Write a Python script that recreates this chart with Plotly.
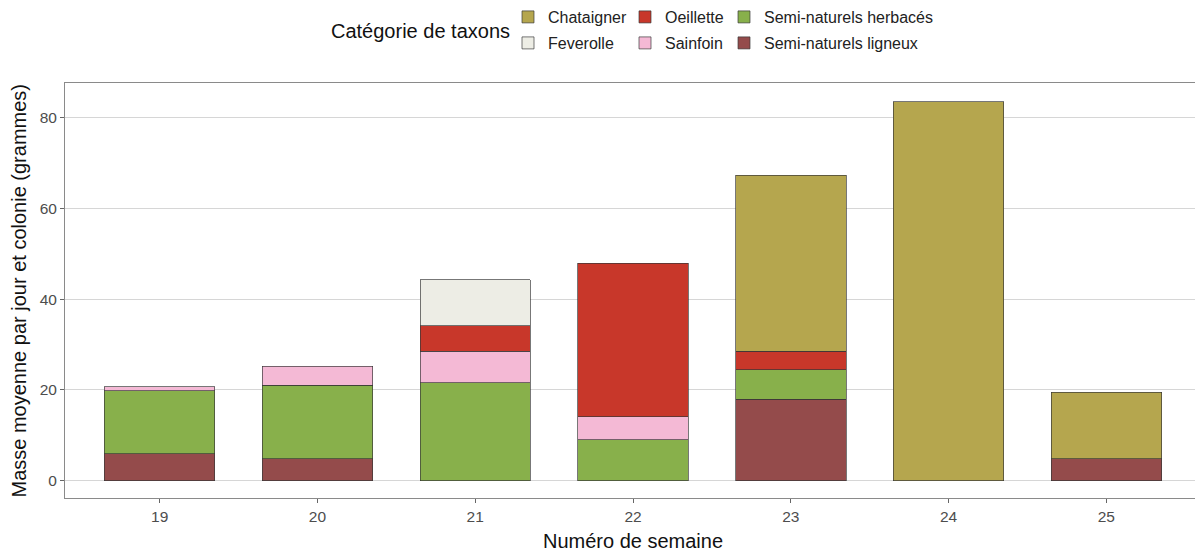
import plotly.graph_objects as go

weeks = [19, 20, 21, 22, 23, 24, 25]

# Stack order, bottom to top
series_names = ["Semi-naturels ligneux", "Semi-naturels herbacés", "Sainfoin",
                "Oeillette", "Feverolle", "Chataigner"]

ligneux   = [5.9, 4.8, None, None, 18.0, None, 4.8]
herbaces  = [13.9, 16.2, 21.6, 9.0, 6.5, None, None]
sainfoin  = [0.9, 4.2, 6.9, 5.1, None, None, None]
oeillette = [None, None, 5.6, 33.8, 4.0, None, None]
feverolle = [None, None, 10.2, None, None, None, None]
chataign  = [None, None, None, None, 38.8, 83.5, 14.7]

values = [ligneux, herbaces, sainfoin, oeillette, feverolle, chataign]
colors = ["#944B4B", "#88B04B", "#F4B9D5", "#C8372A", "#EDEDE5", "#B5A64E"]

y_ticks = [0, 20, 40, 60, 80]

# Legend placement (page px): text start x, row centre y
legend_pos = {
    "Chataigner": (549, 17),
    "Feverolle": (549, 43),
    "Oeillette": (666, 17),
    "Sainfoin": (666, 43),
    "Semi-naturels herbacés": (765, 17),
    "Semi-naturels ligneux": (765, 43),
}

OFF = 8  # page body margin
W, H = 1203 - OFF, 552 - OFF
# plot area in page px: x 65..1201, y 83..498
ML, MR, MT, MB = 65 - OFF, W - (1201 - OFF), 83 - OFF, H - (498 - OFF)
PW, PH = W - ML - MR, H - MT - MB
FONT = "Liberation Sans, Arial, Helvetica, sans-serif"

fig = go.Figure()
layout_legends = {}
for i, (name, vals, col) in enumerate(zip(series_names, values, colors)):
    key = "legend" if i == 0 else f"legend{i+1}"
    fig.add_trace(go.Bar(
        x=weeks, y=vals, name=name, width=0.7,
        marker=dict(color=col, line=dict(color="rgba(55,55,55,0.85)", width=0.8)),
        legend=key,
    ))
    tx, ty = legend_pos[name]
    layout_legends[key] = dict(
        xref="container", yref="container",
        x=(tx - OFF - 41) / W, y=1 - (ty - OFF) / H, xanchor="left", yanchor="middle",
        bgcolor="rgba(0,0,0,0)", borderwidth=0,
        font=dict(family=FONT, size=16, color="#222"),
    )

fig.update_layout(
    width=W, height=H,
    barmode="stack",
    plot_bgcolor="white", paper_bgcolor="white",
    margin=dict(l=ML, r=MR, t=MT, b=MB, autoexpand=False),
    font=dict(family=FONT, color="#222"),
    showlegend=True,
    **layout_legends,
)

fig.update_xaxes(
    range=[18.4, 25.6], tickmode="array", tickvals=weeks,
    ticktext=[str(w) for w in weeks],
    showgrid=False, zeroline=False,
    showline=True, linecolor="#8a8a8a", linewidth=1, mirror=True,
    ticks="outside", ticklen=4, tickcolor="#666",
    tickfont=dict(size=15.5, color="#4d4d4d"),
    title=dict(text="Numéro de semaine", font=dict(size=20, color="#111")),
)
fig.update_yaxes(
    range=[-3.8, 87.6], tickmode="array", tickvals=y_ticks,
    showgrid=True, gridcolor="#d6d6d6", gridwidth=1, zeroline=False,
    showline=True, linecolor="#8a8a8a", linewidth=1, mirror=True,
    ticks="outside", ticklen=4, tickcolor="#666",
    tickfont=dict(size=15.5, color="#4d4d4d"),
)

# y-axis title (page x centre ~18)
fig.add_annotation(
    text="Masse moyenne par jour et colonie (grammes)", textangle=-90,
    xref="paper", yref="paper", x=(18 - 65) / PW, y=0.5,
    xanchor="center", yanchor="middle", showarrow=False,
    font=dict(size=20, color="#111"),
)

fig.add_annotation(
    text="Catégorie de taxons", xref="paper", yref="paper",
    x=(420 - 65) / PW, y=(498 - 31) / PH, xanchor="center", yanchor="middle",
    showarrow=False, font=dict(size=20, color="#111"),
)

fig.write_html("out.html")
